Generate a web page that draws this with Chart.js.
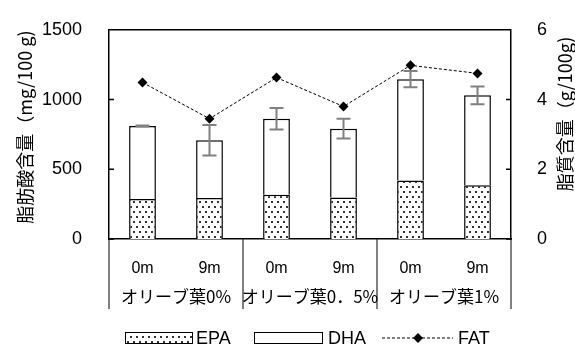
<!DOCTYPE html>
<html lang="ja">
<head>
<meta charset="utf-8">
<script src="https://cdn.jsdelivr.net/npm/chart.js@4.4.1/dist/chart.umd.min.js"></script>
<style>
  html, body { margin: 0; padding: 0; background: #fff; }
  #chart { display: block; }
</style>
</head>
<body>
<canvas id="chart" width="575" height="350"></canvas>
<script>
// データ
const months = ['0m', '9m', '0m', '9m', '0m', '9m'];
const groups = ['オリーブ葉0%', 'オリーブ葉0．5%', 'オリーブ葉1%'];
const epa = [286, 294, 318, 298, 419, 386];
const dha = [524, 414, 544, 493, 727, 644];
const totalErr = [4, 110, 77, 71, 58, 64];
const fat = [4.49, 3.45, 4.63, 3.80, 4.98, 4.75];
const leftTicks = [0, 500, 1000, 1500];
const rightTicks = [0, 2, 4, 6];

const sans = '"Liberation Sans", Arial, sans-serif';
const jp = '"Noto Sans CJK JP", sans-serif';

// EPA用のドット模様
function dotPattern() {
    const c = document.createElement('canvas');
    c.width = 6; c.height = 10;
    const g = c.getContext('2d');
    g.fillStyle = '#fff';
    g.fillRect(0, 0, 6, 10);
    g.fillStyle = '#333';
    g.fillRect(1, 1, 2, 2);
    g.fillRect(4, 6, 2, 2);
    return g.createPattern(c, 'repeat');
}
const dots = dotPattern();

function drawDiamond(ctx, x, y, r) {
    ctx.beginPath();
    ctx.moveTo(x, y - r);
    ctx.lineTo(x + r, y);
    ctx.lineTo(x, y + r);
    ctx.lineTo(x - r, y);
    ctx.closePath();
    ctx.fill();
}

const decor = {
    id: 'decor',
    // エラーバー（DHAの上端 = 合計値）
    afterDatasetDraw(chart, args) {
        if (args.index !== 1) return;
        const ctx = chart.ctx;
        const y = chart.scales.y;
        const meta = chart.getDatasetMeta(1);
        ctx.save();
        ctx.strokeStyle = '#808080';
        ctx.lineWidth = 2;
        meta.data.forEach((bar, i) => {
            const total = epa[i] + dha[i];
            const top = y.getPixelForValue(total + totalErr[i]);
            const bot = y.getPixelForValue(total - totalErr[i]);
            ctx.beginPath();
            ctx.moveTo(bar.x, top); ctx.lineTo(bar.x, bot);
            ctx.moveTo(bar.x - 7, top); ctx.lineTo(bar.x + 7, top);
            ctx.moveTo(bar.x - 7, bot); ctx.lineTo(bar.x + 7, bot);
            ctx.stroke();
        });
        ctx.restore();
    },
    afterDraw(chart) {
        const ctx = chart.ctx;
        const area = chart.chartArea;
        const yL = chart.scales.y, yR = chart.scales.y1;
        const bars = chart.getDatasetMeta(0).data;
        ctx.save();
        ctx.strokeStyle = '#000';
        ctx.lineWidth = 1.5;

        // 上枠と内向きの目盛り
        ctx.beginPath();
        ctx.moveTo(area.left, area.top);
        ctx.lineTo(area.right, area.top);
        leftTicks.forEach(v => {
            const py = yL.getPixelForValue(v);
            ctx.moveTo(area.left, py); ctx.lineTo(area.left + 5, py);
        });
        rightTicks.forEach(v => {
            const py = yR.getPixelForValue(v);
            ctx.moveTo(area.right, py); ctx.lineTo(area.right - 5, py);
        });
        ctx.stroke();

        // 区分線とグループ名
        const bottom = 309;
        const edges = [area.left];
        for (let g = 0; g < groups.length - 1; g++) {
            edges.push((bars[g * 2 + 1].x + bars[g * 2 + 2].x) / 2);
        }
        edges.push(area.right);
        ctx.lineWidth = 1;
        ctx.beginPath();
        edges.forEach(x => { ctx.moveTo(x, area.bottom); ctx.lineTo(x, bottom); });
        ctx.stroke();

        ctx.fillStyle = '#000';
        ctx.font = '17px ' + jp;
        ctx.textAlign = 'center';
        ctx.textBaseline = 'middle';
        groups.forEach((label, g) => {
            ctx.fillText(label, (edges[g] + edges[g + 1]) / 2, 297);
        });

        // 軸タイトル
        ctx.font = '18px ' + jp;
        ctx.save();
        ctx.translate(25, 127);
        ctx.rotate(-Math.PI / 2);
        ctx.fillText('脂肪酸含量（mg/100 g)', 0, 0);
        ctx.restore();
        ctx.save();
        ctx.translate(565, 114);
        ctx.rotate(-Math.PI / 2);
        ctx.fillText('脂質含量（g/100g)', 0, 0);
        ctx.restore();

        // 凡例
        const ly = 338;
        ctx.lineWidth = 1;
        ctx.fillStyle = dots;
        ctx.fillRect(125, 332, 67, 11);
        ctx.strokeRect(125.5, 332.5, 67, 11);
        ctx.fillStyle = '#fff';
        ctx.fillRect(254, 332, 68, 11);
        ctx.strokeRect(254.5, 332.5, 68, 11);

        ctx.setLineDash([3, 2]);
        ctx.beginPath();
        ctx.moveTo(382, ly); ctx.lineTo(453, ly);
        ctx.stroke();
        ctx.setLineDash([]);
        ctx.fillStyle = '#000';
        drawDiamond(ctx, 418, ly, 5);

        ctx.font = '18px ' + sans;
        ctx.textAlign = 'left';
        ctx.fillText('EPA', 196, 339);
        ctx.fillText('DHA', 328, 339);
        ctx.fillText('FAT', 458, 339);
        ctx.restore();
    }
};

new Chart(document.getElementById('chart'), {
    type: 'bar',
    data: {
        labels: months,
        datasets: [{
            label: 'EPA',
            data: epa,
            backgroundColor: dots,
            borderColor: '#000',
            borderWidth: 1.5,
            barPercentage: 0.4,
            categoryPercentage: 1,
            order: 1
        }, {
            label: 'DHA',
            data: dha,
            backgroundColor: '#fff',
            borderColor: '#000',
            borderWidth: 1.5,
            barPercentage: 0.4,
            categoryPercentage: 1,
            order: 1
        }, {
            type: 'line',
            label: 'FAT',
            data: fat,
            yAxisID: 'y1',
            borderColor: '#000',
            borderWidth: 1,
            borderDash: [3, 2],
            pointStyle: 'rectRot',
            pointRadius: 5,
            pointBackgroundColor: '#000',
            pointBorderColor: '#000',
            pointBorderWidth: 0,
            fill: false,
            order: 0
        }]
    },
    options: {
        responsive: false,
        animation: false,
        layout: { padding: { top: 28, left: 0, right: 0, bottom: 0 } },
        plugins: {
            legend: { display: false },
            tooltip: { enabled: false }
        },
        scales: {
            x: {
                stacked: true,
                grid: { display: false },
                border: { display: true, color: '#000', width: 1.5 },
                ticks: { color: '#000', font: { family: sans, size: 16 }, padding: 12, maxRotation: 0 },
                afterFit: s => { s.height = 111; }
            },
            y: {
                stacked: true,
                min: 0,
                max: 1500,
                grid: { display: false },
                border: { display: true, color: '#000', width: 1.5 },
                ticks: { color: '#000', font: { family: sans, size: 18 }, padding: 19, callback: v => String(v) },
                afterBuildTicks: s => { s.ticks = leftTicks.map(v => ({ value: v })); },
                afterFit: s => { s.width = 109; }
            },
            y1: {
                position: 'right',
                min: 0,
                max: 6,
                grid: { display: false },
                border: { display: true, color: '#000', width: 1.5 },
                ticks: { color: '#000', font: { family: sans, size: 18 }, padding: 18, callback: v => String(v) },
                afterBuildTicks: s => { s.ticks = rightTicks.map(v => ({ value: v })); },
                afterFit: s => { s.width = 64; }
            }
        }
    },
    plugins: [decor]
});
</script>
</body>
</html>
